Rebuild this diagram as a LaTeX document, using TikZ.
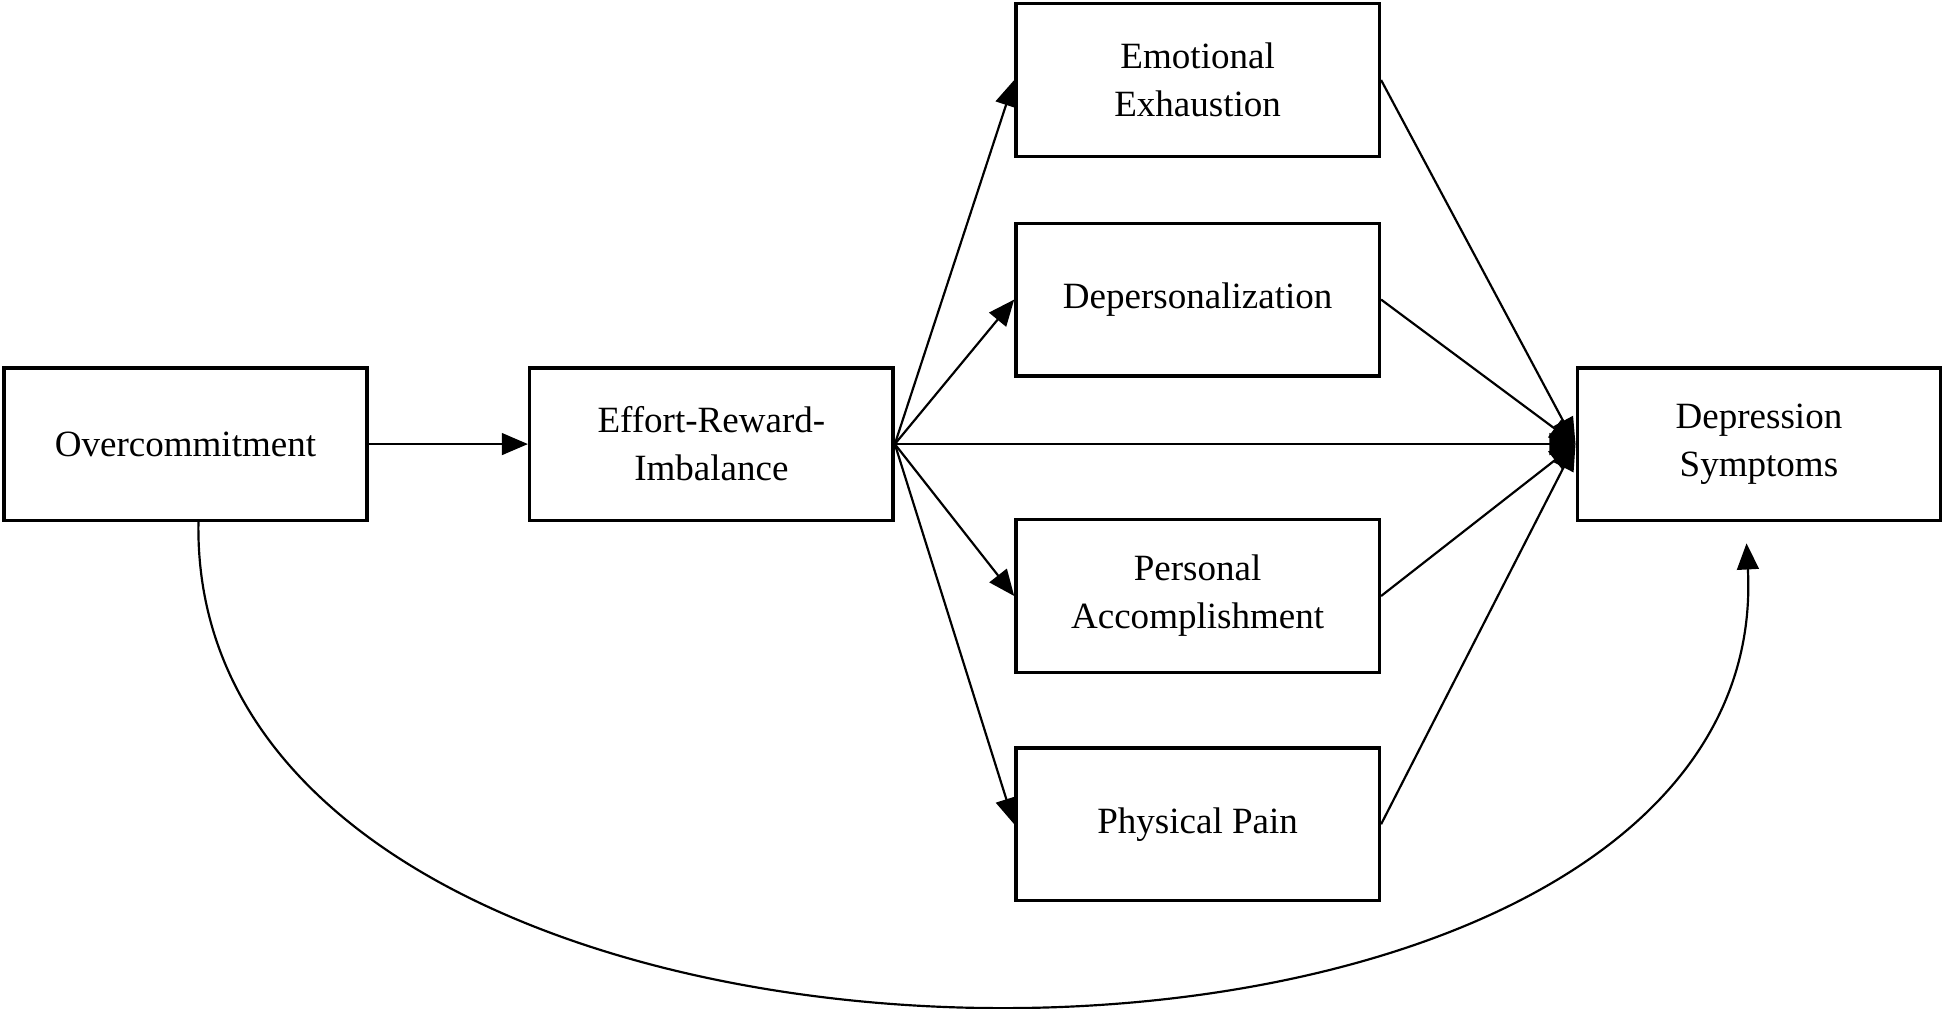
\documentclass[tikz,border=0pt]{standalone}
\usepackage{fontspec}
\setmainfont{Liberation Serif}
\usetikzlibrary{arrows.meta}
\begin{document}
\begin{tikzpicture}[x=0.02cm,y=-0.02cm,
	box/.style={draw,line width=1.6pt,minimum width=5.86cm,minimum height=2.46cm,align=center,font=\fontsize{17}{22}\selectfont},
	path/.style={-{Triangle[length=12pt,width=10pt]},line width=1pt}]
	\useasboundingbox (0,0) rectangle (1568,813);
	\node[box] (over) at (149.5,358) {Overcommitment};
	\node[box] (eri) at (573.5,358) {Effort-Reward-\\Imbalance};
	\node[box] (emo) at (965.5,64.5) {Emotional\\Exhaustion};
	\node[box] (depers) at (965.5,241.5) {Depersonalization};
	\node[box] (pers) at (965.5,480.5) {Personal\\Accomplishment};
	\node[box] (pain) at (965.5,664.5) {Physical Pain};
	\node[box] (depr) at (1418,358) {Depression\\Symptoms};
	\coordinate (start) at (160,420);
	\coordinate (end) at (1408,438);

	\draw[path] (over) -- (eri);
	\draw[path] (eri.east) -- (emo.west);
	\draw[path] (eri.east) -- (depers.west);
	\draw[path] (eri.east) -- (depr.west);
	\draw[path] (eri.east) -- (pers.west);
	\draw[path] (eri.east) -- (pain.west);

	\draw[path] (emo.east) -- (depr.west);
	\draw[path] (depers.east) -- (depr.west);
	\draw[path] (pers.east) -- (depr.west);
	\draw[path] (pain.east) -- (depr.west);

	\draw[path] (start) .. controls (150,937) and (1434,937) .. (end);
\end{tikzpicture}
\end{document}
